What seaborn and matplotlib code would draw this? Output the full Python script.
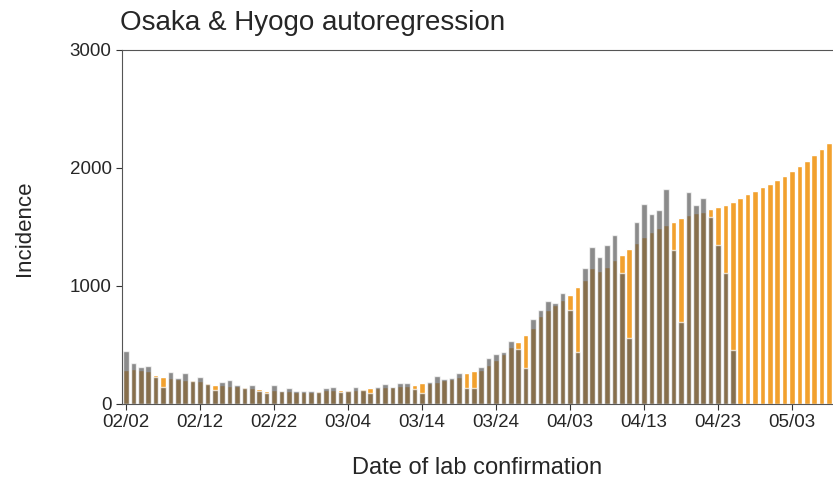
import pandas as pd
import matplotlib
matplotlib.use("Agg")
import matplotlib.pyplot as plt
import seaborn as sns

# Daily incidence, Osaka & Hyogo (observed) and autoregression fit/forecast
dates = pd.date_range("2021-02-02", periods=96).strftime("%m/%d").tolist()

observed = [449, 345, 316, 325, 230, 147, 274, 217, 266, 198,
            226, 170, 119, 186, 203, 161, 136, 161, 113, 90,
            161, 113, 133, 107, 107, 107, 100, 133, 146, 105,
            113, 141, 118, 90, 141, 170, 147, 175, 175, 124,
            90, 186, 237, 209, 220, 266, 133, 133, 316, 387,
            424, 444, 537, 463, 302, 718, 797, 876, 853, 938,
            797, 440, 1150, 1330, 1243, 1347, 1432, 1107, 557, 1545,
            1695, 1607, 1644, 1819, 1305, 698, 1800, 1686, 1743, 1588,
            1347, 1107, 458]

fitted = [290, 300, 290, 280, 246, 232, 220, 215, 205, 200,
          195, 180, 161, 160, 155, 150, 140, 135, 127, 112,
          120, 113, 110, 105, 105, 105, 108, 115, 120, 119,
          115, 118, 124, 136, 135, 140, 145, 150, 155, 161,
          175, 180, 190, 200, 210, 230, 260, 282, 290, 330,
          370, 420, 480, 528, 585, 640, 750, 800, 840, 880,
          924, 989, 1050, 1150, 1130, 1164, 1220, 1263, 1314, 1362,
          1412, 1460, 1489, 1517, 1545, 1573, 1602, 1616, 1630, 1650,
          1667, 1686, 1715, 1749, 1777, 1805, 1842, 1865, 1898, 1932,
          1975, 2017, 2062, 2110, 2158, 2209]

fit_df = pd.DataFrame({"date": dates, "incidence": fitted})
obs_df = pd.DataFrame({"date": dates[:len(observed)], "incidence": observed})

sns.set_style("ticks")
plt.rcParams["font.family"] = ["Liberation Sans", "DejaVu Sans"]

fig = plt.figure(figsize=(8.33, 4.83), dpi=100)
ax = fig.add_axes([122 / 833, 79 / 483, 711 / 833, 354 / 483])

sns.barplot(data=fit_df, x="date", y="incidence", order=dates,
            color="#f2a12e", saturation=1, width=0.76, ax=ax)
sns.barplot(data=obs_df, x="date", y="incidence", order=dates,
            color="#5a5a5a", saturation=1, width=0.76, alpha=0.7, ax=ax)

ax.set_xlim(-0.55, 95.55)
ax.set_ylim(0, 3000)
ax.set_yticks([0, 1000, 2000, 3000])
ax.set_xticks(range(0, 96, 10))
ax.set_xticklabels([dates[i] for i in range(0, 96, 10)])
ax.tick_params(labelsize=13.5, length=4, width=0.8, color="#333333")
ax.set_xlabel("")
ax.set_ylabel("")

for side in ["left", "bottom", "top"]:
    ax.spines[side].set_linewidth(0.8)
    ax.spines[side].set_color("#555555")
ax.spines["right"].set_visible(False)

fig.text(120 / 833, 1 - 23 / 483, "Osaka & Hyogo autoregression",
         fontsize=20, ha="left", va="center")
fig.text(477 / 833, 1 - 468 / 483, "Date of lab confirmation",
         fontsize=17, ha="center", va="center")
fig.text(25 / 833, 1 - 228 / 483, "Incidence", fontsize=16,
         rotation=90, ha="center", va="center")

fig.savefig("out.png", dpi=100)
